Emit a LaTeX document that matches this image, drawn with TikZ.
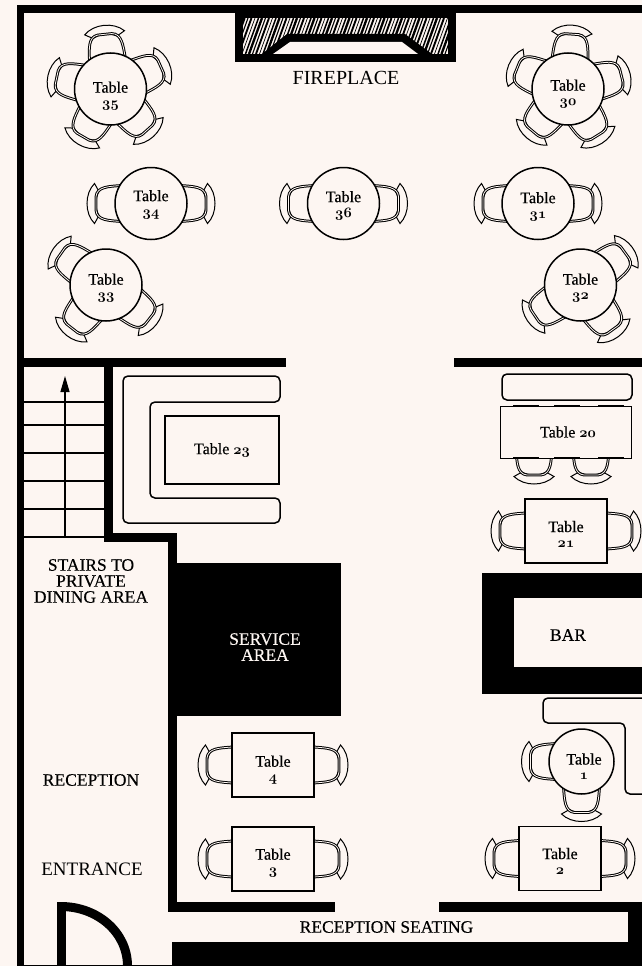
\documentclass[tikz,border=0pt]{standalone}
\usepackage{fontspec}
\usepackage{xcolor}
\usetikzlibrary{arrows.meta}
\setmainfont{Liberation Serif}
\newfontfamily\semifont[FakeBold=0.3]{Liberation Serif}
\definecolor{planbg}{HTML}{FDF6F2}
\newcommand{\tablenum}[1]{{\fontsize{14}{15}\usefont{OML}{cmm}{b}{it}#1}}

\tikzset{
	wall/.style={fill=black},
	bench/.style={draw=black, line width=1.5pt, rounded corners=5pt},
	stairline/.style={draw=black, line width=1.2pt},
	backline/.style={draw=black, line width=1pt, fill=planbg},
	seatline/.style={draw=black, line width=1pt, double=planbg, double distance=.8pt},
	roundtop/.style={circle, draw=black, line width=1.5pt, fill=planbg, minimum size=#1, inner sep=0pt},
	squaretop/.style={rectangle, draw=black, line width=1.3pt, fill=planbg, minimum width=82pt, minimum height=64pt, inner sep=0pt},
	tablelabel/.style={align=center, inner sep=0pt, font=\semifont\fontsize{16}{15}\selectfont},
	roomlabel/.style={align=center, inner sep=0pt, font=\fontsize{20}{15}\selectfont},
	boldlabel/.style={align=center, inner sep=0pt, font=\semifont\fontsize{17.5}{16}\selectfont},
	pics/chair/.style={code={
		\draw[backline] (22,12) -- (26.5,20) .. controls (36.5,10) and (36.5,-10) .. (26.5,-20) -- (22,-12) .. controls (26,-5) and (26,5) .. (22,12) -- cycle;
		\draw[seatline] (0,18) .. controls (12,17) and (24,17) .. (25,7) -- (25,-7) .. controls (24,-17) and (12,-17) .. (0,-18);
	}}
}

\begin{document}
\begin{tikzpicture}[x=1pt, y=-1pt]

	\useasboundingbox (0,0) rectangle (642,966);
	\fill[planbg] (0,0) rectangle (642,966);

	% outer walls
	\fill[wall] (17,5) rectangle (642,12.7);
	\fill[wall] (17,5) rectangle (24.3,966);
	\fill[wall] (24,965) rectangle (172,966);

	% fireplace
	\fill[wall] (235,5) rectangle (456,62);
	\fill[planbg] (243,18) rectangle (448,54);
	\begin{scope}
		\clip (243,18) rectangle (448,54);
		\foreach \hx [count=\i] in {228,231.5,...,448} {
			\pgfmathsetmacro{\hw}{0.7+0.4*mod(\i*7,5)}
			\draw[line width=\hw pt] (\hx,54) -- (\hx+13,18);
		}
	\end{scope}
	\fill[wall] (262,54) -- (287,34) -- (405,34) -- (432,54) -- cycle;
	\fill[planbg] (273,54) -- (290,42) -- (402,42) -- (418,54) -- cycle;
	\node[roomlabel] (fireplace) at (346,78) {FIREPLACE};

	% middle walls
	\fill[wall] (17,358) rectangle (286,367);
	\fill[wall] (454,358) rectangle (642,367);
	\fill[wall] (104,358) rectangle (113,542);
	\fill[wall] (104,533) rectangle (177,542);
	\fill[wall] (168,533) rectangle (177,912);
	\fill[wall] (168,902) rectangle (335,912);
	\fill[wall] (439,902) rectangle (642,912);
	\fill[wall] (628,902) rectangle (642,966);
	\fill[wall] (172,942) rectangle (642,966);

	% service area and bar
	\fill[wall] (168,563) rectangle (341,716);
	\fill[wall] (482,573) rectangle (642,694);
	\fill[planbg] (514,598) rectangle (642,667);
	\node[boldlabel, text=planbg] (service) at (265,647) {SERVICE\\AREA};
	\node[boldlabel] (bar) at (568,635) {BAR};

	% stairs
	\foreach \sy in {402,425,453,481,509,537}
		\draw[stairline] (24,\sy) -- (104,\sy);
	\coordinate (stairfoot) at (65,537);
	\coordinate (stairtop) at (65,376);
	\draw[stairline, -{Triangle[length=16pt,width=9pt]}] (stairfoot) -- (stairtop);
	\node[boldlabel] (stairs) at (91,581) {STAIRS TO\\PRIVATE\\DINING AREA};

	% door
	\fill[wall] (57,902) rectangle (66,966);
	\draw[line width=9pt] (61,906.5) .. controls (97,906.5) and (127.5,932) .. (127.5,966);

	% reception
	\node[boldlabel] (reception) at (91,780) {RECEPTION};
	\node[roomlabel, font=\fontsize{19}{15}\selectfont] (entrance) at (92,869) {ENTRANCE};
	\node[boldlabel] (seating) at (386.5,927) {RECEPTION SEATING};

	% round tables with their chairs
	\foreach \num/\tx/\ty/\dy/\chairs in {
		35/110.5/89/7/{96,168,240,312,24},
		30/568/89/5/{86,158,230,302,14},
		34/151/203.5/1/{0,180},
		36/343.5/203.5/2/{0,180},
		31/538/203.5/3/{0,180},
		33/106/285/3/{145,232,322},
		32/580.5/285/3/{36,214,306}} {
		\foreach \a in \chairs
			\pic[shift={(\tx,\ty)}, rotate=\a, xshift=30pt] {chair};
		\node[roundtop=72pt] (top\num) at (\tx,\ty) {};
		\node[tablelabel] (lab\num) at (\tx,\ty+\dy) {Table\\\tablenum{\num}};
	}

	% table 1 is a bit smaller
	\foreach \a in {180,270}
		\pic[shift={(581.5,761.5)}, rotate=\a, xshift=26pt] {chair};
	\node[roundtop=65pt] (top1) at (581.5,761.5) {};
	\node[tablelabel] (lab1) at (584,766.5) {Table\\\tablenum{1}};

	% square tables
	\foreach \num/\tx/\ty/\dy in {21/566/531/3, 4/273/765/5, 3/273/859/4, 2/560/858.5/2.5} {
		\foreach \a in {0,180}
			\pic[shift={(\tx,\ty)}, rotate=\a, xshift=41pt] {chair};
		\node[squaretop] (top\num) at (\tx,\ty) {};
		\node[tablelabel] (lab\num) at (\tx,\ty+\dy) {Table\\\tablenum{\num}};
	}

	% table 20 and its bench
	\draw[bench] (502,374) rectangle (632,400);
	\foreach \cx in {534,591}
		\pic[shift={(\cx,450)}, rotate=-90] {chair};
	\node[squaretop, line width=.9pt, minimum width=131pt, minimum height=52pt] (top20) at (565.5,432) {};
	\node[tablelabel] (lab20) at (568,432) {Table \tablenum{20}};
	\foreach \ex/\ey in {513/539, 554/580, 598/624} {
		\draw[line width=1.8pt] (\ex,406) -- (\ey,406);
		\draw[line width=1.8pt] (\ex,458) -- (\ey,458);
	}

	% table 23 and its bench
	\draw[bench] (280,376) -- (123,376) -- (123,523) -- (280,523) -- (280,498) -- (150,498) -- (150,402) -- (280,402) -- cycle;
	\node[squaretop, line width=1.8pt, minimum width=114pt, minimum height=68pt] (top23) at (222,450) {};
	\node[tablelabel] (lab23) at (222,450) {Table \tablenum{23}};

	% bench by the bar
	\draw[bench] (642,698) -- (543,698) -- (543,723) -- (625,723) -- (625,794) -- (642,794);

\end{tikzpicture}
\end{document}
